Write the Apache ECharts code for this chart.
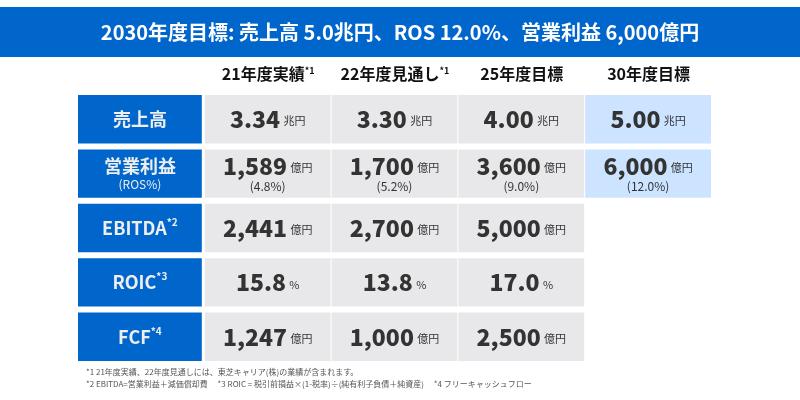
<!DOCTYPE html>
<html lang="ja">
<head>
<meta charset="utf-8">
<script src="https://cdn.jsdelivr.net/npm/echarts@6/dist/echarts.min.js"></script>
<style>
  html, body { margin: 0; padding: 0; background: #fff; }
  #main { width: 800px; height: 400px; }
</style>
</head>
<body>
<div id="main"></div>
<script>
var FONT = '"Noto Sans CJK JP", "Noto Sans", sans-serif';

// columns (first one is the row label column)
var columns = ['label', '21年度実績', '22年度見通し', '25年度目標', '30年度目標'];
var columnNotes = ['', '*1', '*1', '', ''];
// rows
var rows = ['売上高', '営業利益', 'EBITDA', 'ROIC', 'FCF'];
var rowNotes = ['', '', '*2', '*3', '*4'];
var rowSubs = ['', '(ROS%)', '', '', ''];
var units = ['兆円', '億円', '億円', '%', '億円'];

// values per row: 21実績, 22見通し, 25目標, 30目標 (null = empty)
var salesVals = ['3.34', '3.30', '4.00', '5.00'];
var opVals = ['1,589', '1,700', '3,600', '6,000'];
var rosVals = ['(4.8%)', '(5.2%)', '(9.0%)', '(12.0%)'];
var ebitdaVals = ['2,441', '2,700', '5,000', null];
var roicVals = ['15.8', '13.8', '17.0', null];
var fcfVals = ['1,247', '1,000', '2,500', null];

var titleText = '2030年度目標: 売上高 5.0兆円、ROS 12.0%、営業利益 6,000億円';
var note1 = '*1 21年度実績、22年度見通しには、東芝キャリア(株)の業績が含まれます。';
var note2 = '*2 EBITDA=営業利益＋減価償却費　 *3 ROIC = 税引前損益×(1-税率)÷(純有利子負債＋純資産)　 *4 フリーキャッシュフロー';

var valueRows = [salesVals, opVals, ebitdaVals, roicVals, fcfVals];
var subRows = [null, rosVals, null, null, null];

var cells = [];
rows.forEach(function (r, ri) {
  cells.push([0, ri, 'label']);
  valueRows[ri].forEach(function (v, ci) {
    if (v !== null) cells.push([ci + 1, ri, 'value']);
  });
});

function renderCell(params, api) {
  var ci = api.value(0), ri = api.value(1);
  var c = api.coord([ci, ri]);
  var sz = api.size([1, 1]);
  var gapX = ci === 0 ? 3 : 1;
  var w = sz[0] - gapX, h = sz[1] - 6;
  var x = c[0] - sz[0] / 2, y = c[1] - h / 2;
  var fill, text, rich;
  if (ci === 0) {
    fill = '#0066cc';
    text = '{n|' + rows[ri] + '}{sup|' + rowNotes[ri] + '}' + (rowSubs[ri] ? '\n{s|' + rowSubs[ri] + '}' : '');
    rich = {
      n: { fontSize: 18, fontWeight: 'bold', color: '#fff', fontFamily: FONT, lineHeight: 22 },
      sup: { fontSize: 10, fontWeight: 'bold', color: '#fff', fontFamily: FONT, verticalAlign: 'top', lineHeight: 22 },
      s: { fontSize: 12, color: '#fff', fontFamily: FONT, lineHeight: 15 }
    };
  } else {
    var highlight = ci === 4;
    fill = highlight ? '#cce4ff' : '#e8e8ea';
    var col = highlight ? '#0066cc' : '#111';
    var v = valueRows[ri][ci - 1];
    var sub = subRows[ri] ? subRows[ri][ci - 1] : null;
    text = '{v|' + v + '} {u|' + units[ri] + '}' + (sub ? '\n{s|' + sub + '}' : '');
    rich = {
      v: { fontSize: 23, fontWeight: 900, color: col, fontFamily: FONT, lineHeight: 26 },
      u: { fontSize: 11, color: col, fontFamily: FONT, lineHeight: 26, padding: [4, 0, 0, 0] },
      s: { fontSize: 12, color: col, fontFamily: FONT, lineHeight: 15 }
    };
  }
  return {
    type: 'rect',
    shape: { x: x, y: y, width: w, height: h },
    style: { fill: fill },
    textContent: { style: { text: text, rich: rich, align: 'center', verticalAlign: 'middle' } },
    textConfig: { position: 'inside' }
  };
}

var chart = echarts.init(document.getElementById('main'), null, { renderer: 'canvas' });
chart.setOption({
  animation: false,
  grid: { left: 78, right: 88, top: 92, bottom: 36 },
  xAxis: {
    type: 'category', position: 'top', data: columns,
    axisLine: { show: false }, axisTick: { show: false }, splitLine: { show: false },
    axisLabel: {
      interval: 0, hideOverlap: false,
      margin: 10,
      formatter: function (v, i) { return i === 0 ? '' : '{h|' + v + '}{sup|' + columnNotes[i] + '}'; },
      rich: {
        h: { fontSize: 16, fontWeight: 'bold', color: '#111', fontFamily: FONT },
        sup: { fontSize: 9, fontWeight: 'bold', color: '#111', fontFamily: FONT, verticalAlign: 'top' }
      }
    }
  },
  yAxis: {
    type: 'category', inverse: true, data: rows, show: false
  },
  graphic: [
    { type: 'rect', shape: { x: 0, y: 7, width: 800, height: 50 }, style: { fill: '#0066cc' } },
    { type: 'text', x: 400, y: 32, style: { text: titleText, fill: '#fff', font: 'bold 20px ' + FONT, align: 'center', verticalAlign: 'middle' } },
    { type: 'text', x: 86, y: 372, style: { text: note1, fill: '#555', font: '8px ' + FONT, verticalAlign: 'middle' } },
    { type: 'text', x: 86, y: 384, style: { text: note2, fill: '#555', font: '8px ' + FONT, verticalAlign: 'middle' } }
  ],
  series: [{
    type: 'custom',
    renderItem: renderCell,
    data: cells,
    encode: { x: 0, y: 1 }
  }]
});
</script>
</body>
</html>
